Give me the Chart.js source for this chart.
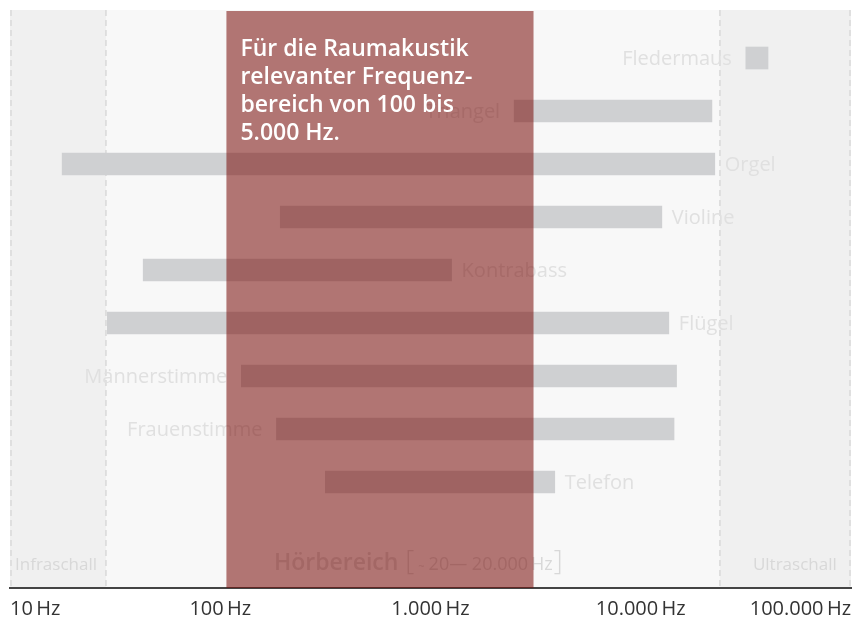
<!DOCTYPE html>
<html lang="de">
<head>
<meta charset="utf-8">
<title>Hörbereich</title>
<script src="https://cdn.jsdelivr.net/npm/chart.js@4.4.1/dist/chart.umd.min.js"></script>
<style>
  html, body { margin: 0; padding: 0; background: #fff; }
  #wrap { width: 859px; height: 617px; position: relative; }
</style>
</head>
<body>
<div id="wrap"><canvas id="chart"></canvas></div>
<script>
// Frequenzbereiche (Hz)
const sources = ['Fledermaus', 'Triangel', 'Orgel', 'Violine', 'Kontrabass', 'Flügel', 'Männerstimme', 'Frauenstimme', 'Telefon'];
const lowHz = [31600, 2500, 17.7, 193, 43, 29, 126, 185, 316];
const highHz = [40300, 21800, 22500, 12600, 1260, 13600, 14800, 14400, 3900];
const labelSide = ['left', 'left', 'right', 'right', 'right', 'right', 'left', 'left', 'right'];
const tickHz = [10, 100, 1000, 10000, 100000];
const roomBandHz = [107, 3090];   // Raumakustik-Bereich
const hearingHz = [28.6, 23800];  // Grenze Infra- / Ultraschall

const FONT = '"Open Sans", "Noto Sans", sans-serif';

function fmtHz(v) {
    return String(v).replace(/\B(?=(\d{3})+(?!\d))/g, '.') + '\u2009Hz';
}

const backdrop = {
    id: 'backdrop',
    beforeDraw(chart) {
        const {ctx, chartArea: a, scales: {x}} = chart;
        const xi = x.getPixelForValue(hearingHz[0]);
        const xu = x.getPixelForValue(hearingHz[1]);
        ctx.save();
        ctx.fillStyle = '#f8f8f8';
        ctx.fillRect(a.left, a.top, a.width, a.height);
        ctx.fillStyle = '#f0f0f0';
        ctx.fillRect(a.left, a.top, xi - a.left, a.height);
        ctx.fillRect(xu, a.top, a.right - xu, a.height);

        ctx.strokeStyle = '#d9d9d9';
        ctx.lineWidth = 1.5;
        ctx.setLineDash([6, 4]);
        [a.left + 1, xi, xu, a.right - 1].forEach(px => {
            ctx.beginPath();
            ctx.moveTo(px, a.top);
            ctx.lineTo(px, a.bottom);
            ctx.stroke();
        });
        ctx.setLineDash([]);

        const base = a.bottom - 18;
        ctx.fillStyle = '#d8d8d8';
        ctx.textBaseline = 'alphabetic';
        ctx.textAlign = 'left';
        ctx.font = '17px ' + FONT;
        ctx.fillText('Infraschall', a.left + 5, base);
        ctx.fillText('Ultraschall', xu + 33, base);

        // Hörbereich-Beschriftung (liegt unter dem roten Band)
        let px = x.getPixelForValue(180);
        const parts = [
            ['Hörbereich', '600 23px ', 7],
            ['[', '300 28px ', 4],
            ['~', '11px ', 4],
            ['20\u2014 20.000', '18px ', 3],
            ['Hz', '18px ', 1],
            [']', '300 28px ', 0]
        ];
        parts.forEach(([txt, f, gap]) => {
            ctx.font = f + FONT;
            ctx.fillText(txt, px, base);
            px += ctx.measureText(txt).width + gap;
        });
        ctx.restore();
    }
};

const overlay = {
    id: 'overlay',
    afterDatasetsDraw(chart) {
        const {ctx, chartArea: a, scales: {x}} = chart;
        const meta = chart.getDatasetMeta(0);
        ctx.save();
        // Beschriftung neben den Balken
        ctx.font = '20px ' + FONT;
        ctx.fillStyle = '#e0e0e0';
        ctx.textBaseline = 'middle';
        meta.data.forEach((el, i) => {
            const l = Math.min(el.x, el.base);
            const r = Math.max(el.x, el.base);
            if (labelSide[i] === 'left') {
                ctx.textAlign = 'right';
                ctx.fillText(sources[i], l - 14, el.y + 1);
            } else {
                ctx.textAlign = 'left';
                ctx.fillText(sources[i], r + 10, el.y + 1);
            }
        });

        // rotes Band 100 - 5.000 Hz
        const b0 = x.getPixelForValue(roomBandHz[0]);
        const b1 = x.getPixelForValue(roomBandHz[1]);
        ctx.fillStyle = 'rgba(122, 14, 10, 0.56)';
        ctx.fillRect(b0, a.top + 1, b1 - b0, a.bottom - a.top - 1);

        ctx.fillStyle = '#ffffff';
        ctx.textAlign = 'left';
        ctx.textBaseline = 'alphabetic';
        ctx.font = '600 23px ' + FONT;
        ['Für die Raumakustik', 'relevanter Frequenz-', 'bereich von 100 bis', '5.000 Hz.'].forEach((t, k) => {
            ctx.fillText(t, b0 + 14, a.top + 46 + k * 28);
        });
        ctx.restore();
    }
};

new Chart(document.getElementById('chart'), {
    type: 'bar',
    data: {
        datasets: [{
            data: sources.map((s, i) => ({y: i, x: [lowHz[i], highHz[i]]})),
            backgroundColor: '#cfd0d2',
            borderWidth: 0,
            borderSkipped: false,
            barThickness: 22
        }]
    },
    options: {
        indexAxis: 'y',
        responsive: true,
        maintainAspectRatio: false,
        animation: false,
        layout: { padding: { left: 10, right: 8, top: 10, bottom: 0 } },
        plugins: {
            legend: { display: false },
            tooltip: { enabled: false }
        },
        scales: {
            x: {
                type: 'logarithmic',
                min: 10,
                max: 100000,
                grid: { display: false },
                border: { display: true, color: '#444', width: 2 },
                ticks: {
                    align: 'inner',
                    autoSkip: false,
                    maxRotation: 0,
                    padding: 1,
                    color: '#333',
                    font: { size: 20, family: FONT },
                    callback: v => fmtHz(v)
                },
                afterBuildTicks: s => { s.ticks = tickHz.map(v => ({value: v})); },
                afterFit: s => { s.height = 29; }
            },
            y: {
                type: 'linear',
                reverse: true,
                offset: false,
                min: -0.906,
                max: 10,
                display: false
            }
        }
    },
    plugins: [backdrop, overlay]
});
</script>
</body>
</html>
